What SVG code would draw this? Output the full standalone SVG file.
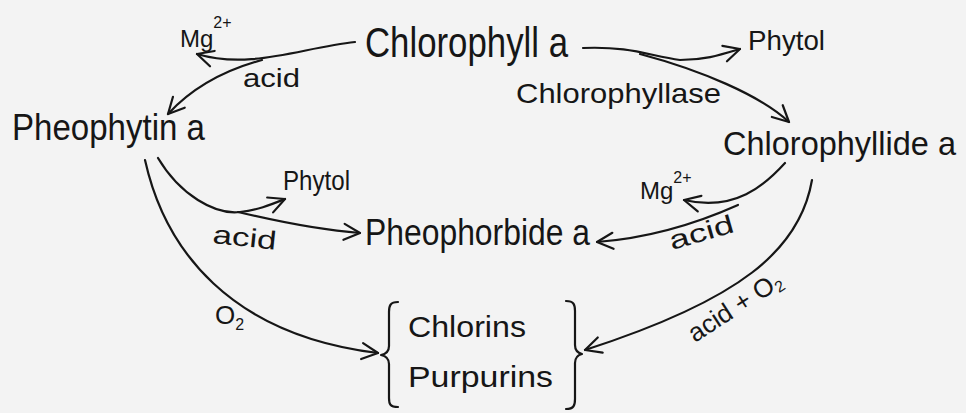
<svg xmlns="http://www.w3.org/2000/svg" width="966" height="413" viewBox="0 0 966 413">
<defs>
<style>
.t{font-family:"Liberation Sans","DejaVu Sans",sans-serif;fill:#161616;}
.c{fill:none;stroke:#161616;stroke-width:2.2;stroke-linecap:round;stroke-linejoin:round;}
</style>
<marker id="ah" viewBox="0 0 20 20" refX="18" refY="10" markerWidth="20" markerHeight="20" markerUnits="userSpaceOnUse" orient="auto">
<path d="M2,2 L18,10 L2,18" fill="none" stroke="#161616" stroke-width="2.2" stroke-linecap="round" stroke-linejoin="round"/>
</marker>
</defs>
<rect width="966" height="413" fill="#f3f3f3"/>
<g id="connectors">
<path class="c" d="M355,42 C300,48 250,70 197,54" marker-end="url(#ah)"/>
<path class="c" d="M262,60 C225,70 192,88 168,114" marker-end="url(#ah)"/>
<path class="c" d="M583,48 C630,46 650,56 680,60 C705,60 720,55 740,49" marker-end="url(#ah)"/>
<path class="c" d="M640,54 C700,70 760,95 789,122" marker-end="url(#ah)"/>
<path class="c" d="M158,158 C180,195 215,215 240,212 C258,210 270,205 285,199" marker-end="url(#ah)"/>
<path class="c" d="M238,212 C280,222 320,230 360,233" marker-end="url(#ah)"/>
<path class="c" d="M145,160 C165,250 230,335 378,353" marker-end="url(#ah)"/>
<path class="c" d="M785,163 C765,185 735,212 684,200" marker-end="url(#ah)"/>
<path class="c" d="M738,205 C700,222 650,238 597,242" marker-end="url(#ah)"/>
<path class="c" d="M812,180 C800,250 740,300 585,350" marker-end="url(#ah)"/>
</g>
<g id="chlorophyll-a"><text class="t" x="365" y="57" font-size="42" textLength="203" lengthAdjust="spacingAndGlyphs">Chlorophyll a</text></g>
<g id="mg-top"><text class="t" x="180" y="47" font-size="24">Mg<tspan font-size="16" dy="-19">2+</tspan></text></g>
<g id="acid-top"><text class="t" x="243" y="87" font-size="26" textLength="57" lengthAdjust="spacingAndGlyphs">acid</text></g>
<g id="phytol-top"><text class="t" x="748" y="50" font-size="28" textLength="77" lengthAdjust="spacingAndGlyphs">Phytol</text></g>
<g id="chlorophyllase"><text class="t" x="516" y="103" font-size="28" textLength="205" lengthAdjust="spacingAndGlyphs">Chlorophyllase</text></g>
<g id="pheophytin-a"><text class="t" x="12" y="140" font-size="36" textLength="193" lengthAdjust="spacingAndGlyphs">Pheophytin a</text></g>
<g id="chlorophyllide-a"><text class="t" x="723" y="155" font-size="33" textLength="233" lengthAdjust="spacingAndGlyphs">Chlorophyllide a</text></g>
<g id="phytol-mid"><text class="t" x="283" y="190" font-size="28" textLength="67" lengthAdjust="spacingAndGlyphs">Phytol</text></g>
<g id="mg-right"><text class="t" x="640" y="199" font-size="24">Mg<tspan font-size="16" dy="-16">2+</tspan></text></g>
<g id="acid-right"><text class="t" x="672" y="250" font-size="26" textLength="66" lengthAdjust="spacingAndGlyphs" transform="rotate(-16 672 250)">acid</text></g>
<g id="acid-left"><text class="t" x="212" y="243" font-size="26" textLength="64" lengthAdjust="spacingAndGlyphs" transform="rotate(6 212 243)">acid</text></g>
<g id="pheophorbide-a"><text class="t" x="365" y="245" font-size="36" textLength="225" lengthAdjust="spacingAndGlyphs">Pheophorbide a</text></g>
<g id="o2-left"><text class="t" x="215" y="324" font-size="26">O<tspan font-size="16" dy="6">2</tspan></text></g>
<g id="acid-o2"><text class="t" x="695" y="343" font-size="26" transform="rotate(-33 695 343)">acid + O<tspan font-size="16" dy="4">2</tspan></text></g>
<g id="products">
<path class="c" d="M398,302 C390,302 389,306 389,312 L389,346 C389,352 386,354 381,355 C386,356 389,358 389,364 L389,398 C389,404 390,407 398,407"/>
<path class="c" d="M566,301 C574,301 575,305 575,311 L575,345 C575,351 578,353 582,354 C578,355 575,357 575,363 L575,399 C575,405 574,409 566,409"/>
<text class="t" x="408" y="337" font-size="30" textLength="118" lengthAdjust="spacingAndGlyphs">Chlorins</text>
<text class="t" x="408" y="387" font-size="30" textLength="145" lengthAdjust="spacingAndGlyphs">Purpurins</text>
</g>
</svg>
